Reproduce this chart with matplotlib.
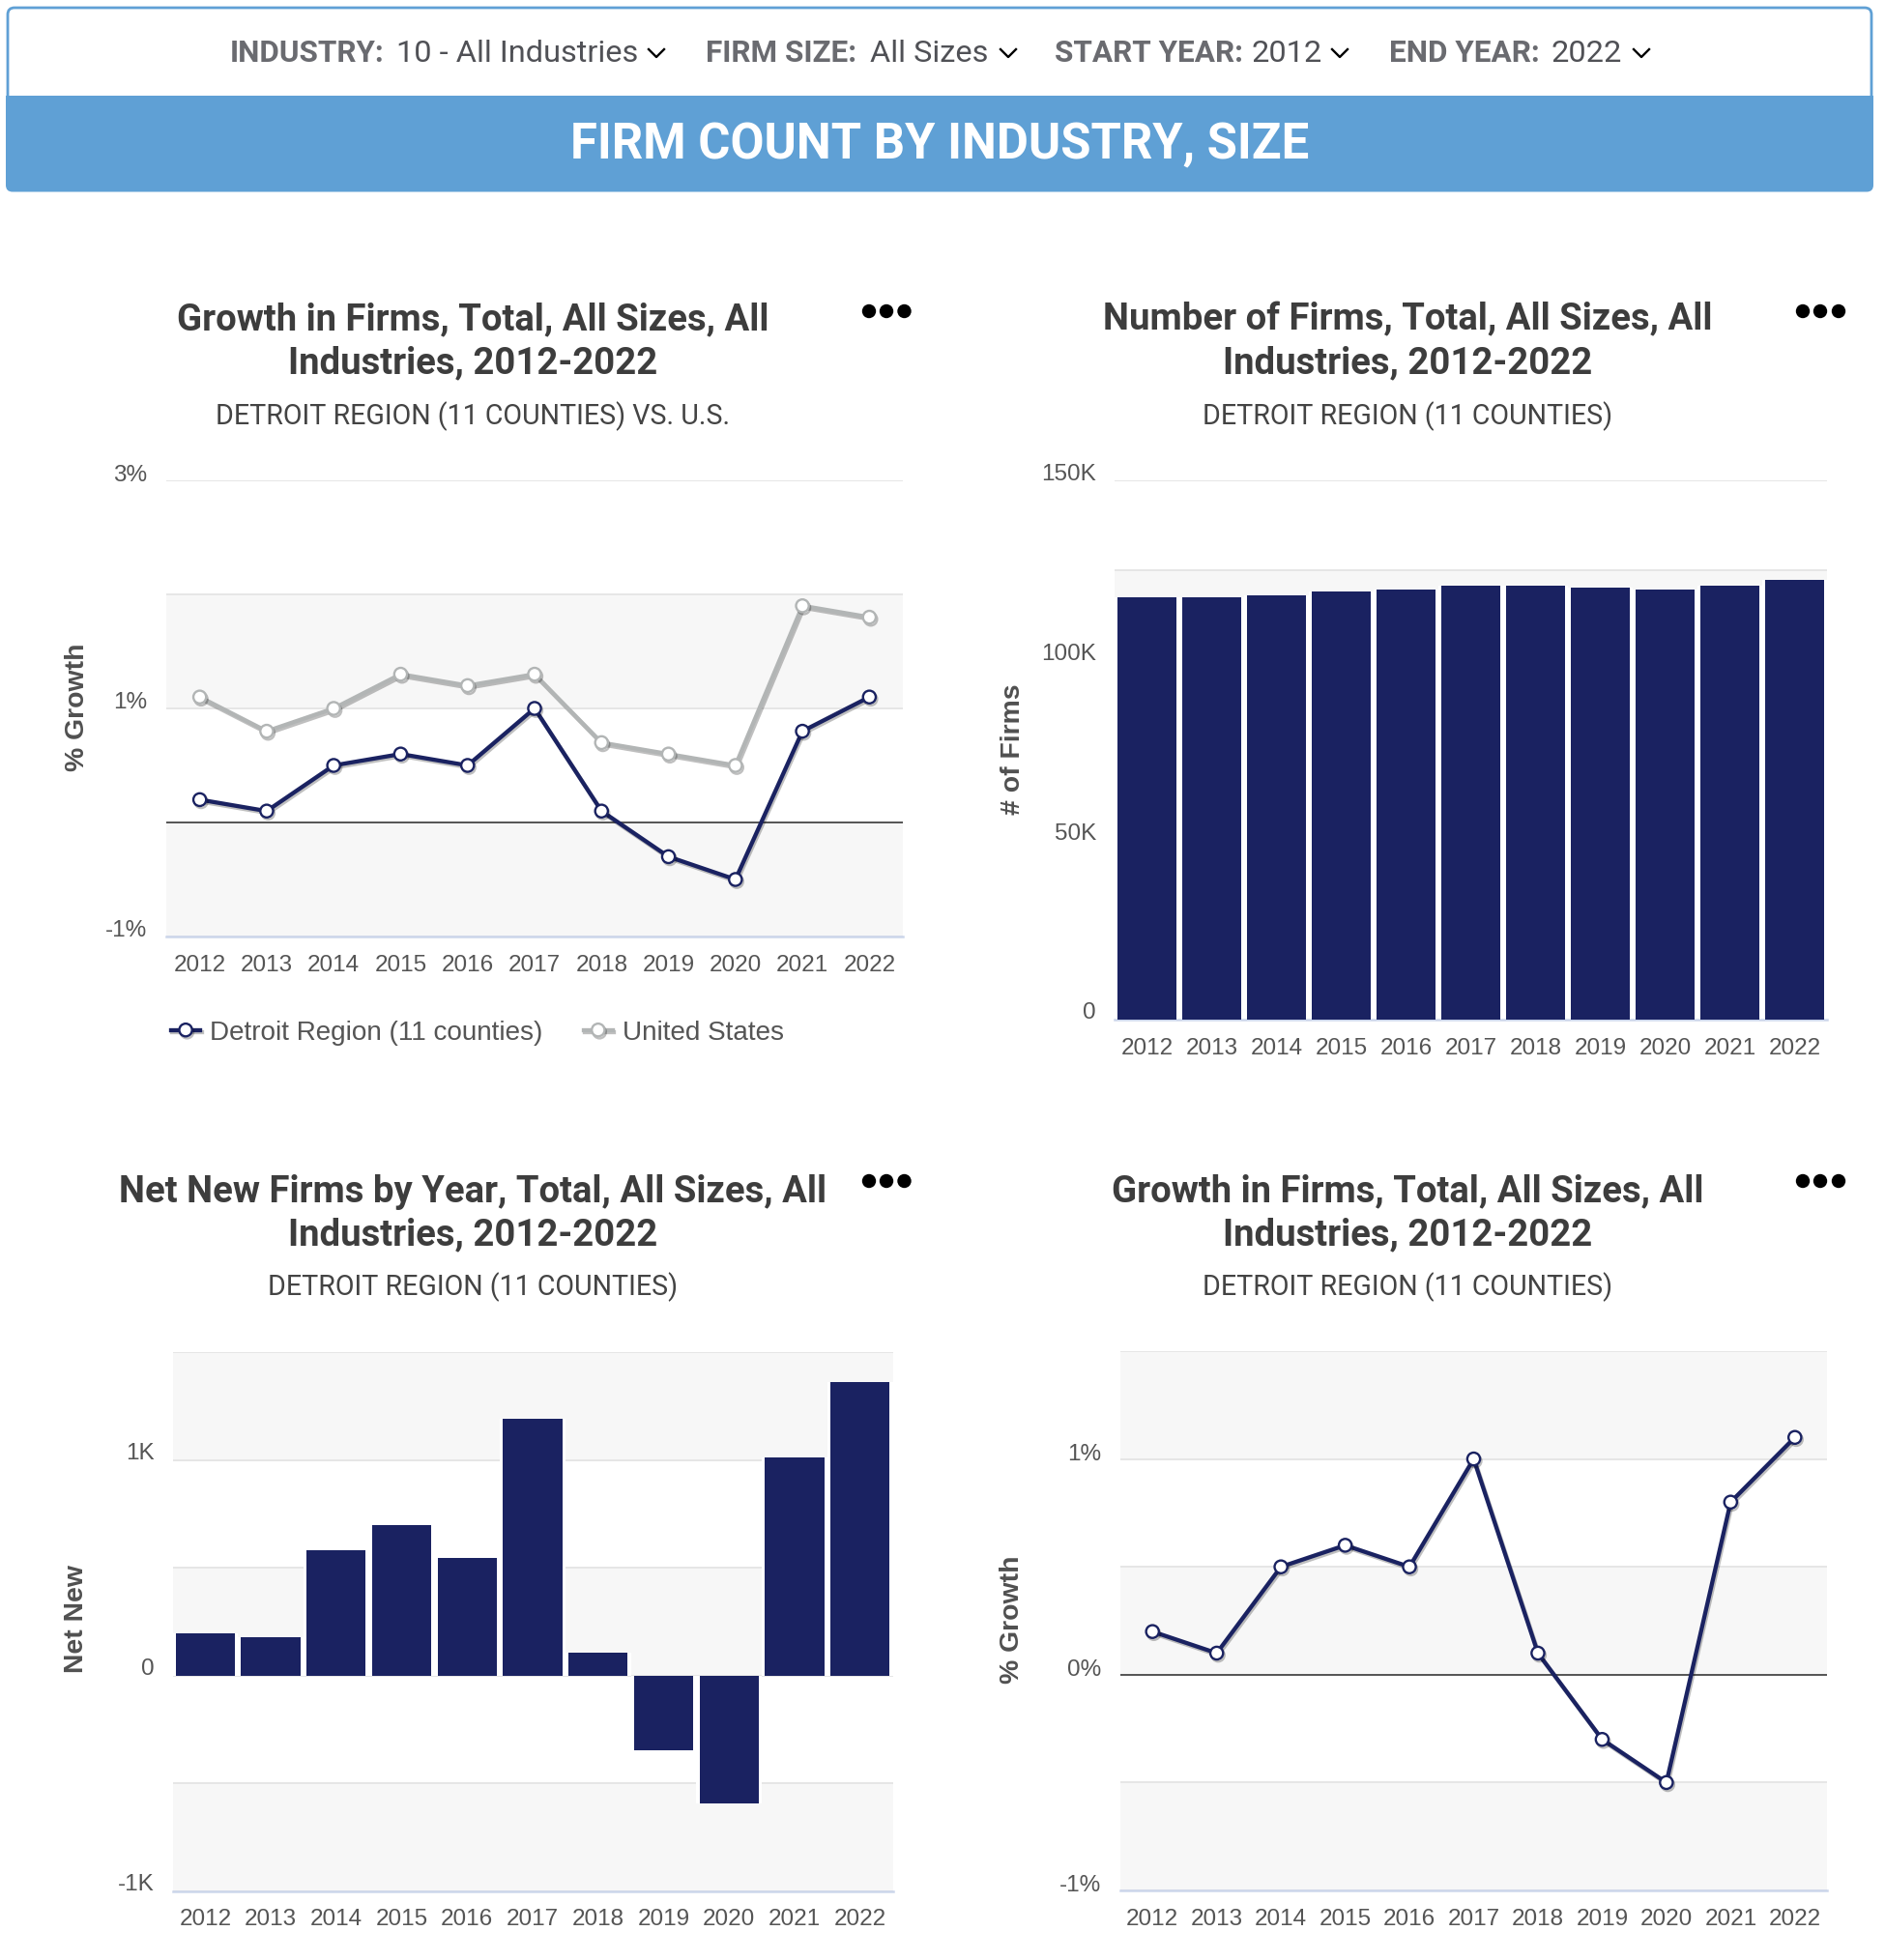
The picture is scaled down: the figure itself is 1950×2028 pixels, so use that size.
"""Firm count dashboard: four small charts under a filter bar and a blue banner."""
import matplotlib
matplotlib.use("Agg")
import matplotlib.pyplot as plt
import matplotlib.patheffects as pe
from matplotlib.patches import FancyBboxPatch, Rectangle, Circle
from matplotlib.transforms import ScaledTranslation

W, H = 1950, 2028
NAVY = "#1a2261"; GREY = "#b2b5b5"; BLUE = "#5fa0d5"; BAND = "#f7f7f7"
GRID = "#e6e6e6"; AXIS = "#ccd6eb"; TICK = "#555555"; TITLE = "#3d3d3d"

YEARS = [2012, 2013, 2014, 2015, 2016, 2017, 2018, 2019, 2020, 2021, 2022]
DETROIT_GROWTH = [0.2, 0.1, 0.5, 0.6, 0.5, 1.0, 0.1, -0.3, -0.5, 0.8, 1.1]
US_GROWTH = [1.1, 0.8, 1.0, 1.3, 1.2, 1.3, 0.7, 0.6, 0.5, 1.9, 1.8]
FIRMS = [117500, 117500, 118000, 119100, 119700, 120700, 120700, 120100, 119700, 120700, 122300]
NET_NEW = [196, 179, 581, 697, 545, 1191, 107, -346, -591, 1012, 1361]

plt.rcParams["font.family"] = ["Liberation Sans", "DejaVu Sans"]
fig = plt.figure(figsize=(W / 100, H / 100), dpi=100, facecolor="white")

# page layer in pixel coordinates, for the header and titles
bg = fig.add_axes([0, 0, 1, 1]); bg.set_xlim(0, W); bg.set_ylim(H, 0); bg.axis("off")


def make_ax(left, right, top, bottom, ylim, major, labels, minor, bands, ylab, ylab_x, ylab_y, lab_right, lift, xpad=14):
    ax = fig.add_axes([left / W, 1 - bottom / H, (right - left) / W, (bottom - top) / H])
    ax.set_xlim(-0.5, 10.5); ax.set_ylim(*ylim); ax.set_facecolor("none")
    for s in ("top", "left", "right"):
        ax.spines[s].set_visible(False)
    ax.spines["bottom"].set_color(AXIS); ax.spines["bottom"].set_linewidth(1.8)
    for a, b in bands:
        ax.axhspan(a, b, color=BAND, lw=0, zorder=0)
    ax.set_yticks(major); ax.set_yticklabels(labels); ax.set_yticks(minor, minor=True)
    ax.grid(True, axis="y", which="both", color=GRID, lw=1.4, zorder=1); ax.set_axisbelow(True)
    ax.set_xticks(range(len(YEARS))); ax.set_xticklabels(YEARS)
    ax.tick_params(axis="both", which="both", length=0, labelsize=17.5, labelcolor=TICK)
    ax.tick_params(axis="x", pad=xpad)
    ax.tick_params(axis="y", pad=(left - lab_right) * 0.72)
    ax.set_ylabel(ylab, fontsize=20.4, fontweight="bold", color="#505050")
    ax.yaxis.set_label_coords(ylab_x, ylab_y, transform=bg.transData)
    # labels sit just above their gridline
    shift = ScaledTranslation(0, lift / 100, fig.dpi_scale_trans)
    for t in ax.get_yticklabels():
        t.set_transform(t.get_transform() + shift)
    return ax


def growth_line(ax, vals, color, label, z):
    ax.plot(range(len(vals)), vals, "-o", color=color, lw=3.1, ms=9.5, mfc="white", mew=1.7, label=label,
            zorder=z, clip_on=False, path_effects=[pe.SimpleLineShadow(offset=(1, -1.5), alpha=0.25), pe.Normal()])


def bars(ax, vals):
    ax.bar(range(len(vals)), vals, width=1.0, color="white", lw=0, zorder=2)
    ax.bar(range(len(vals)), vals, width=0.905, color=NAVY, lw=0, zorder=3)


def heading(cx, y1, y2, ysub, line1, line2, sub, dots, ydots):
    bg.text(cx, y1, line1, ha="center", va="center", fontsize=27.5, fontweight="bold", family="Roboto", color=TITLE)
    bg.text(cx, y2, line2, ha="center", va="center", fontsize=27.5, fontweight="bold", family="Roboto", color=TITLE)
    bg.text(cx, ysub, sub, ha="center", va="center", fontsize=20.65, family="Roboto", color="#444444")
    for x in dots:
        bg.add_patch(Circle((x, ydots), 7.2, color="black", lw=0))


# ---- filter bar and banner ----
bg.add_patch(FancyBboxPatch((8, 8), 1928, 186, boxstyle="round,pad=0,rounding_size=7", fc="white", ec=BLUE, lw=2))
bg.add_patch(FancyBboxPatch((6, 140), 1932, 58.5, boxstyle="round,pad=0,rounding_size=7", fc=BLUE, ec="none"))
bg.add_patch(Rectangle((6, 99), 1932, 60, fc=BLUE, ec="none"))
bg.text(972, 150, "FIRM COUNT BY INDUSTRY, SIZE", ha="center", va="center", fontsize=36.5, fontweight="bold",
        family="Roboto", color="white")

FILTERS = [("INDUSTRY:", 238, "10 - All Industries", 410, 679), ("FIRM SIZE:", 730, "All Sizes", 900, 1043),
           ("START YEAR:", 1091, "2012", 1295, 1386), ("END YEAR:", 1437, "2022", 1605, 1698)]
for lab, lx, val, vx, cx in FILTERS:
    bg.text(lx, 55, lab, va="center", fontsize=22.7, fontweight="bold", family="Roboto", color="#6a6b70")
    bg.text(vx, 55.5, val, va="center", fontsize=23.4, family="Roboto", color="#505156")
    bg.plot([cx - 8, cx, cx + 8], [51, 59, 51], color="black", lw=1.7)

# ---- growth, Detroit vs U.S. ----
ax1 = make_ax(172, 934, 497, 969, (-1, 3), [-1, 1, 3], ["-1%", "1%", "3%"], [0, 2], [(-1, 0), (1, 2)],
              "% Growth", 93, 732, 152, 8)
ax1.axhline(0, color="#555555", lw=1.4, zorder=1.5)
growth_line(ax1, DETROIT_GROWTH, NAVY, "Detroit Region (11 counties)", 5)
growth_line(ax1, US_GROWTH, GREY, "United States", 4)
ax1.legend(loc="center left", bbox_to_anchor=(177, 1068.5), bbox_transform=bg.transData, ncol=2, frameon=False,
           fontsize=20.1, labelcolor=TICK, borderpad=0, borderaxespad=0, handlelength=1.08, handletextpad=0.37,
           columnspacing=1.5)
heading(489, 331, 376, 431, "Growth in Firms, Total, All Sizes, All", "Industries, 2012-2022",
        "DETROIT REGION (11 COUNTIES) VS. U.S.", [899, 917, 935.5], 322)

# ---- number of firms ----
ax2 = make_ax(1153, 1890, 497, 1055, (0, 150000), [0, 50000, 100000, 150000], ["0", "50K", "100K", "150K"],
              [25000, 75000, 125000], [(0, 25000), (50000, 75000), (100000, 125000)],
              "# of Firms", 1061, 775, 1134, 9)
bars(ax2, FIRMS)
heading(1456, 331, 376, 431, "Number of Firms, Total, All Sizes, All", "Industries, 2012-2022",
        "DETROIT REGION (11 COUNTIES)", [1865, 1883, 1902], 322)

# ---- net new firms ----
ax3 = make_ax(178.5, 923.5, 1399, 1957, (-1000, 1500), [-1000, 0, 1000], ["-1K", "0", "1K"], [-500, 500, 1500],
              [(-1000, -500), (0, 500), (1000, 1500)], "Net New", 92, 1675, 159.5, 9.5, xpad=12.7)
bars(ax3, NET_NEW)
heading(489, 1233, 1278, 1332, "Net New Firms by Year, Total, All Sizes, All", "Industries, 2012-2022",
        "DETROIT REGION (11 COUNTIES)", [899, 917, 935.5], 1222)

# ---- growth, Detroit only ----
ax4 = make_ax(1159, 1890, 1398, 1956, (-1, 1.5), [-1, 0, 1], ["-1%", "0%", "1%"], [-0.5, 0.5, 1.5],
              [(-1, -0.5), (0, 0.5), (1, 1.5)], "% Growth", 1060, 1676, 1139, 7.5)
ax4.axhline(0, color="#555555", lw=1.4, zorder=1.5)
growth_line(ax4, DETROIT_GROWTH, NAVY, "Detroit Region (11 counties)", 5)
heading(1456, 1233, 1278, 1332, "Growth in Firms, Total, All Sizes, All", "Industries, 2012-2022",
        "DETROIT REGION (11 COUNTIES)", [1865, 1883, 1902], 1222)

fig.savefig("out.png", dpi=100)
